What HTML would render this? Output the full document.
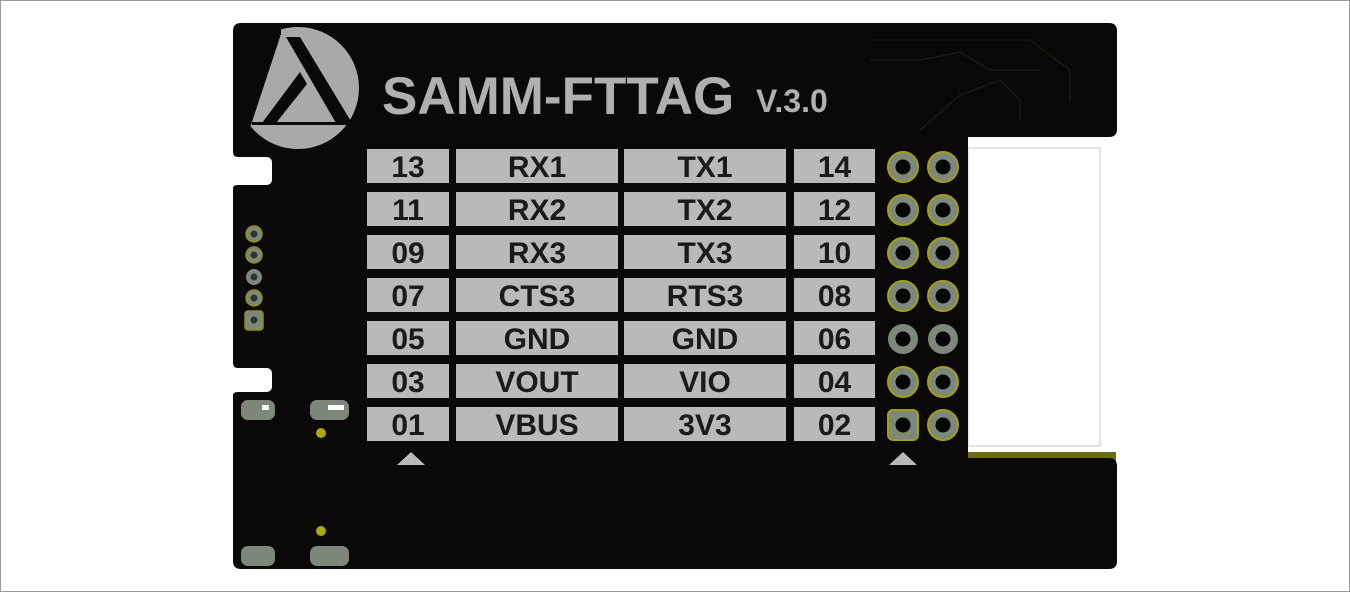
<!DOCTYPE html>
<html><head><meta charset="utf-8"><style>
html,body{margin:0;padding:0;background:#fff;}
svg{display:block;}
text{font-family:"Liberation Sans",sans-serif;font-weight:bold;}
</style></head><body>
<svg width="1350" height="592" viewBox="0 0 1350 592">
<rect x="0.5" y="0.5" width="1349" height="591" fill="#fff" stroke="#9a9a9a"/>
<rect x="968" y="148" width="132" height="298" fill="#fff" stroke="#c8c8c8"/>
<rect x="968" y="452" width="148" height="10" fill="#6b6b10"/>
<path fill="#0a0908"
 d="M241 23 H1109 Q1117 23 1117 31 V129 Q1117 137 1109 137 H968 V458 H1109 Q1117 458 1117 466 V561 Q1117 569 1109 569 H241 Q233 569 233 561 V395 Q233 392 238 392 H266 Q272 392 272 386 V374 Q272 368 266 368 H238 Q233 368 233 363 V188 Q233 185 238 185 H266 Q272 185 272 179 V163 Q272 157 266 157 H238 Q233 157 233 152 V31 Q233 23 241 23 Z"/>
<g stroke="#191813" stroke-width="1.5" fill="none">
<path d="M870 40 H1030 L1070 70 V100"/>
<path d="M870 60 L920 60 L960 52 L990 70 L1040 70"/>
<path d="M920 130 L960 95 L1000 80 L1020 100 V120"/>
</g>
<g>
<circle cx="298" cy="88" r="61" fill="#a9a9a9"/>
<polygon points="255,26 281,26 281,34 250,128 236,128 236,60" fill="#0a0908"/>
<polygon points="286,37 300,37 352,123 336,123" fill="#0a0908"/>
<polygon points="300,72 307,84 276,123 262,123" fill="#0a0908"/>
<rect x="252" y="122" width="102" height="3" fill="#0a0908"/>
</g>
<text x="382" y="114" font-size="53" fill="#b0b0b0">SAMM-FTTAG</text>
<text x="756" y="112" font-size="32" fill="#b0b0b0">V.3.0</text>
<g id="labels"></g>
<g id="pins"></g>
<polygon points="397,465 411,452 425,465" fill="#b9b9b9"/>
<polygon points="889,465 903,452 917,465" fill="#b9b9b9"/>
<g>
<circle cx="254" cy="234" r="8" fill="#7d887b" stroke="#8f8f10" stroke-width="1.5"/><circle cx="254" cy="234" r="3.5" fill="#333"/>
<circle cx="254" cy="255" r="8" fill="#7d887b" stroke="#8f8f10" stroke-width="1.5"/><circle cx="254" cy="255" r="3.5" fill="#333"/>
<circle cx="254" cy="277" r="8" fill="#7d887b"/><circle cx="254" cy="277" r="3.5" fill="#333"/>
<circle cx="254" cy="298" r="8" fill="#7d887b" stroke="#8f8f10" stroke-width="1.5"/><circle cx="254" cy="298" r="3.5" fill="#333"/>
<rect x="245" y="311" width="18" height="19" rx="3" fill="#7d887b" stroke="#8f8f10" stroke-width="1.5"/><circle cx="254" cy="320" r="3.5" fill="#333"/>
</g>
<g fill="#7d887b">
<rect x="241" y="400" width="34" height="20" rx="7"/><rect x="310" y="400" width="39" height="20" rx="7"/>
<rect x="241" y="546" width="34" height="20" rx="7"/><rect x="310" y="546" width="39" height="20" rx="7"/>
<rect x="262" y="405" width="7" height="5" fill="#fff"/><rect x="328" y="405" width="16" height="5" fill="#fff"/>
<circle cx="321" cy="433" r="5" fill="#a8a810"/><circle cx="321" cy="531" r="5" fill="#a8a810"/>
</g>
<script>
const leftNums=["13","11","09","07","05","03","01"];
const leftSigs=["RX1","RX2","RX3","CTS3","GND","VOUT","VBUS"];
const rightSigs=["TX1","TX2","TX3","RTS3","GND","VIO","3V3"];
const rightNums=["14","12","10","08","06","04","02"];
const NS="http://www.w3.org/2000/svg";
const rowY=i=>149+i*43;
const cols=[[367,82],[456,162],[624,162],[794,81]];
const lg=document.getElementById('labels');
const pg=document.getElementById('pins');
function box(x,w,y,t,name){
 const r=document.createElementNS(NS,'rect');
 r.setAttribute('x',x);r.setAttribute('y',y);r.setAttribute('width',w);r.setAttribute('height',34);r.setAttribute('fill','#b9b9b9');
 
 
 lg.appendChild(r);
 const tx=document.createElementNS(NS,'text');
 tx.setAttribute('x',x+w/2);tx.setAttribute('y',y+28);tx.setAttribute('font-size','30');tx.setAttribute('fill','#1a1a1a');tx.setAttribute('text-anchor','middle');
 tx.textContent=t;
 
 
 lg.appendChild(tx);
}
for(let i=0;i<7;i++){
 const y=rowY(i);
 box(cols[0][0],cols[0][1],y,leftNums[i],'pin-'+leftNums[i]);
 box(cols[1][0],cols[1][1],y,leftSigs[i],'signal-'+leftSigs[i].toLowerCase()+'-'+leftNums[i]);
 box(cols[2][0],cols[2][1],y,rightSigs[i],'signal-'+rightSigs[i].toLowerCase()+'-'+rightNums[i]);
 box(cols[3][0],cols[3][1],y,rightNums[i],'pin-'+rightNums[i]);
 [903,943].forEach((cx,j)=>{
  const cy=y+18;
  let o;
  if(i===6&&j===0){o=document.createElementNS(NS,'rect');o.setAttribute('x',cx-15);o.setAttribute('y',cy-15);o.setAttribute('width',30);o.setAttribute('height',30);o.setAttribute('rx',5);}
  else{o=document.createElementNS(NS,'circle');o.setAttribute('cx',cx);o.setAttribute('cy',cy);o.setAttribute('r',15);}
  o.setAttribute('fill','#7d887b');
  if(i!==4)o.setAttribute('stroke','#a0a010');
  o.setAttribute('stroke-width','2');
  
  
  pg.appendChild(o);
  const h=document.createElementNS(NS,'circle');
  h.setAttribute('cx',cx);h.setAttribute('cy',cy);h.setAttribute('r',7.5);h.setAttribute('fill','#050505');
  
  
  pg.appendChild(h);
 });
}
</script>
</svg>
</body></html>
